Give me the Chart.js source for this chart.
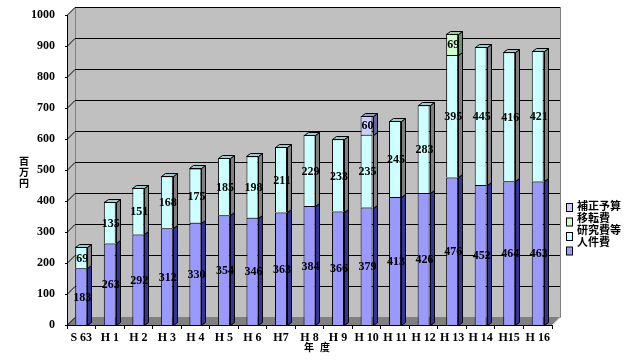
<!DOCTYPE html>
<html>
<head>
<meta charset="utf-8">
<script src="https://cdn.jsdelivr.net/npm/chart.js@4.4.1/dist/chart.umd.min.js"></script>
<style>
  html, body { margin: 0; padding: 0; background: #fff; }
  #wrap { width: 640px; height: 360px; position: relative; }
</style>
</head>
<body>
<div id="wrap"><canvas id="myChart"></canvas></div>
<script>
// 年度
var years = ['S 63', 'H 1', 'H 2', 'H 3', 'H 4', 'H 5', 'H 6', 'H7', 'H 8', 'H 9',
             'H 10', 'H 11', 'H 12', 'H 13', 'H 14', 'H15', 'H 16'];
// 百万円
var jinkenhi = [183, 263, 292, 312, 330, 354, 346, 363, 384, 366, 379, 413, 426, 476, 452, 464, 463];
var kenkyuhi = [69, 135, 151, 168, 175, 185, 198, 211, 229, 233, 235, 245, 283, 395, 445, 416, 421];
var itenhi = [null, null, null, null, null, null, null, null, null, null, null, null, null, 69, null, null, null];
var hosei = [null, null, null, null, null, null, null, null, null, null, 60, null, null, null, null, null, null];
var yTicks = [0, 100, 200, 300, 400, 500, 600, 700, 800, 900, 1000];
var legendNames = ['人件費', '研究費等', '移転費', '補正予算'];

var DX = 8, DY = 8;   // wall depth
var BX = 4, BY = 3;   // bar depth

var sideColors = ['#333399', '#808080', '#669966', '#666699'];
var topColors = ['#6666cc', '#99cccc', '#99cc99', '#9999cc'];

var wallPlugin = {
  id: 'walls',
  beforeDraw: function(chart) {
    var ctx = chart.ctx, a = chart.chartArea, y = chart.scales.y;
    ctx.save();
    // left wall
    ctx.fillStyle = '#c0c0c0';
    ctx.beginPath();
    ctx.moveTo(a.left, a.top); ctx.lineTo(a.left + DX, a.top - DY);
    ctx.lineTo(a.left + DX, a.bottom - DY); ctx.lineTo(a.left, a.bottom);
    ctx.closePath(); ctx.fill();
    // back wall
    ctx.fillRect(a.left + DX, a.top - DY, a.right - a.left, a.bottom - a.top);
    ctx.strokeStyle = '#808080'; ctx.lineWidth = 1;
    ctx.strokeRect(a.left + DX + 0.5, a.top - DY + 0.5, a.right - a.left, a.bottom - a.top);
    // floor
    ctx.fillStyle = '#808080';
    ctx.beginPath();
    ctx.moveTo(a.left, a.bottom); ctx.lineTo(a.left + DX, a.bottom - DY);
    ctx.lineTo(a.right + DX, a.bottom - DY); ctx.lineTo(a.right, a.bottom);
    ctx.closePath(); ctx.fill();
    ctx.strokeStyle = '#c0c0c0';
    ctx.beginPath();
    ctx.moveTo(a.right + 0.5, a.bottom); ctx.lineTo(a.right + DX + 0.5, a.bottom - DY);
    ctx.stroke();
    // grid lines on back wall + diagonal ticks
    ctx.strokeStyle = '#000';
    yTicks.forEach(function(v) {
      var py = Math.round(y.getPixelForValue(v)) + 0.5;
      if (v > 0) {
        ctx.beginPath();
        ctx.moveTo(a.left + DX, py - DY); ctx.lineTo(a.right + DX, py - DY);
        ctx.stroke();
      }
      ctx.beginPath();
      ctx.moveTo(a.left - 2, py); ctx.lineTo(a.left, py); ctx.lineTo(a.left + DX, py - DY);
      ctx.stroke();
    });
    ctx.restore();
  }
};

var barPlugin = {
  id: 'bars3d',
  afterDatasetsDraw: function(chart) {
    var ctx = chart.ctx;
    var tops = [];
    ctx.save();
    ctx.strokeStyle = '#000'; ctx.lineWidth = 1;
    chart.data.datasets.forEach(function(ds, di) {
      chart.getDatasetMeta(di).data.forEach(function(bar, i) {
        if (ds.data[i] == null) return;
        var r = Math.round(bar.x + bar.width / 2) + 0.5;
        var t = Math.round(bar.y) + 0.5, b = Math.round(bar.base) + 0.5;
        ctx.fillStyle = sideColors[di];
        ctx.beginPath();
        ctx.moveTo(r, t); ctx.lineTo(r + BX, t - BY); ctx.lineTo(r + BX, b - BY); ctx.lineTo(r, b);
        ctx.closePath(); ctx.fill(); ctx.stroke();
        tops[i] = { bar: bar, di: di };
      });
    });
    tops.forEach(function(o) {
      var l = Math.round(o.bar.x - o.bar.width / 2) + 0.5;
      var r = Math.round(o.bar.x + o.bar.width / 2) + 0.5;
      var t = Math.round(o.bar.y) + 0.5;
      ctx.fillStyle = topColors[o.di];
      ctx.beginPath();
      ctx.moveTo(l, t); ctx.lineTo(l + BX, t - BY); ctx.lineTo(r + BX, t - BY); ctx.lineTo(r, t);
      ctx.closePath(); ctx.fill(); ctx.stroke();
    });
    // value labels
    ctx.fillStyle = '#000';
    ctx.font = 'bold 12px "Liberation Serif", serif';
    ctx.textAlign = 'center'; ctx.textBaseline = 'middle';
    chart.data.datasets.forEach(function(ds, di) {
      chart.getDatasetMeta(di).data.forEach(function(bar, i) {
        if (ds.data[i] == null) return;
        ctx.fillText(String(ds.data[i]), bar.x + 1, (bar.y + bar.base) / 2 + 1);
      });
    });
    ctx.restore();
  }
};

var textPlugin = {
  id: 'texts',
  afterDraw: function(chart) {
    var ctx = chart.ctx;
    ctx.save();
    ctx.fillStyle = '#000';
    ctx.textAlign = 'center'; ctx.textBaseline = 'middle';
    ctx.font = 'bold 10px "Noto Sans CJK JP", sans-serif';
    ['百', '万', '円'].forEach(function(c, i) { ctx.fillText(c, 24, 161 + i * 11); });
    ctx.fillText('年', 309, 347);
    ctx.fillText('度', 325, 347);
    // legend (reverse order like the original)
    var n = chart.data.datasets.length;
    ctx.textAlign = 'left';
    ctx.font = 'bold 11px "Noto Sans CJK JP", sans-serif';
    for (var k = 0; k < n; k++) {
      var ds = chart.data.datasets[n - 1 - k];
      ctx.fillStyle = ds.backgroundColor;
      ctx.fillRect(566.5, 203.5 + k * 14.5, 6, 8);
      ctx.strokeStyle = '#000';
      ctx.strokeRect(566.5, 203.5 + k * 14.5, 6, 8);
      ctx.fillStyle = '#000';
      ctx.fillText(ds.label, 577, 206 + k * 12);
    }
    ctx.restore();
  }
};

function makeSet(label, data, color) {
  return {
    label: label, data: data, backgroundColor: color,
    borderColor: '#000', borderWidth: 1, stack: 's',
    barPercentage: 0.42, categoryPercentage: 1
  };
}

var ctx = document.getElementById('myChart').getContext('2d');
var chart = new Chart(ctx, {
  type: 'bar',
  data: {
    labels: years,
    datasets: [
      makeSet(legendNames[0], jinkenhi, '#9999ff'),
      makeSet(legendNames[1], kenkyuhi, '#ccffff'),
      makeSet(legendNames[2], itenhi, '#ccffcc'),
      makeSet(legendNames[3], hosei, '#ccccff')
    ]
  },
  plugins: [wallPlugin, barPlugin, textPlugin],
  options: {
    responsive: true,
    maintainAspectRatio: false,
    animation: false,
    layout: { padding: { left: 0, right: 88, top: 15, bottom: 0 } },
    plugins: { legend: { display: false }, tooltip: { enabled: false } },
    scales: {
      x: {
        stacked: true,
        afterFit: function(s) { s.height = 35; },
        grid: { display: true, drawOnChartArea: false, offset: true, tickLength: 4, color: '#000' },
        border: { display: true, color: '#000' },
        ticks: { color: '#000', padding: 2, maxRotation: 0, autoSkip: false,
                 font: { family: '"Liberation Serif", serif', size: 12, weight: 'bold' } }
      },
      y: {
        stacked: true, min: 0, max: 1000,
        afterFit: function(s) { s.width = 67; },
        afterBuildTicks: function(s) { s.ticks = yTicks.map(function(v) { return { value: v }; }); },
        grid: { display: false },
        border: { display: true, color: '#000' },
        ticks: { color: '#000', padding: 4,
                 callback: function(v) { return String(v); },
                 font: { family: '"Liberation Serif", serif', size: 12, weight: 'bold' } }
      }
    }
  }
});
</script>
</body>
</html>
